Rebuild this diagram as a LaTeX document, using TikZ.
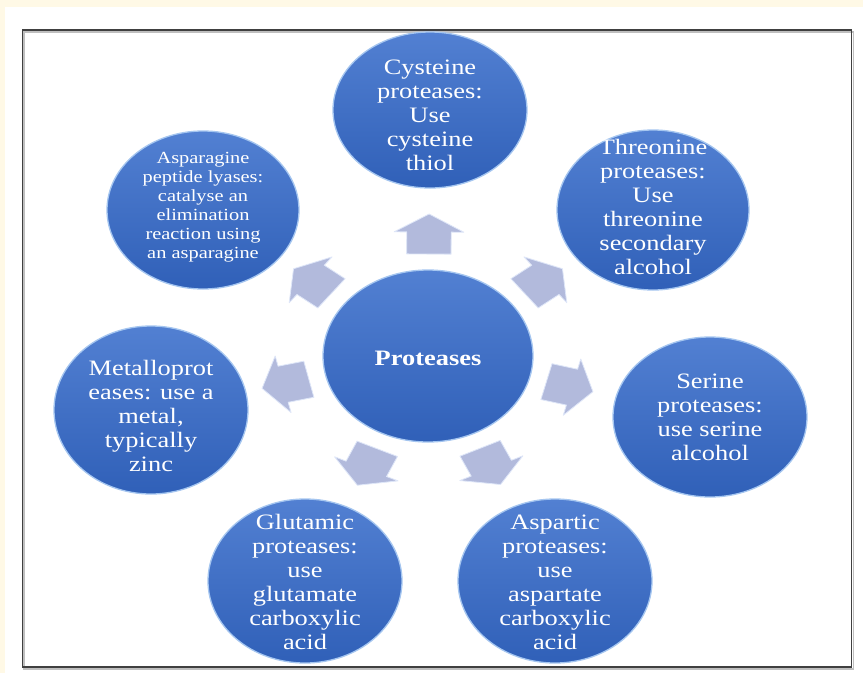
\documentclass[tikz,border=0pt]{standalone}
\usepackage{fontspec}
\setmainfont{Liberation Serif}[FakeStretch=1.2]
\usetikzlibrary{shapes.geometric,calc}
\definecolor{cream}{RGB}{255,249,230}
\definecolor{bubtop}{RGB}{82,128,210}
\definecolor{bubbot}{RGB}{48,96,184}
\definecolor{bubrim}{RGB}{165,198,240}
\definecolor{arrfill}{RGB}{178,186,220}
\definecolor{arredge}{RGB}{222,230,248}
\begin{document}
\begin{tikzpicture}[x=1pt,y=-1pt,
  bubble/.style={ellipse, inner sep=0pt, top color=bubtop, bottom color=bubbot, draw=bubrim, line width=1.3pt},
  btext/.style={align=center, text=white, font=\fontsize{22}{24}\selectfont},
  stext/.style={align=center, text=white, font=\fontsize{17}{19}\selectfont},
  blockarr/.style={fill=arrfill, draw=arredge, line width=0.8pt, line join=round}]

\fill[cream] (0,0) rectangle (863,673);
\fill[white] (5,7) rectangle (863,673);
\useasboundingbox (0,0) rectangle (863,673);
\draw[black!25, line width=1.2pt] (24,32) rectangle (853.5,669);
\draw[black!75, line width=1.2pt] (22.5,30) rectangle (851.5,667);

\node[bubble, minimum width=210pt, minimum height=172pt] (c) at (428,356) {};
\node[bubble, minimum width=194pt, minimum height=156pt] (cys) at (430,110) {};
\node[bubble, minimum width=192pt, minimum height=160pt] (thr) at (653,210) {};
\node[bubble, minimum width=194pt, minimum height=160pt] (ser) at (710,417) {};
\node[bubble, minimum width=194pt, minimum height=164pt] (asp) at (555,581) {};
\node[bubble, minimum width=194pt, minimum height=164pt] (glu) at (305,581) {};
\node[bubble, minimum width=194pt, minimum height=168pt] (met) at (151,410) {};
\node[bubble, minimum width=192pt, minimum height=158pt] (asn) at (203,210) {};

\node[btext, font=\fontsize{22}{24}\selectfont\bfseries] (tc) at ($(c)+(0,2)$) {Proteases};
\node[btext] (tcys) at ($(cys)+(0,5)$) {Cysteine\\proteases:\\Use\\cysteine\\thiol};
\node[btext] (tthr) at ($(thr)+(0,-3)$) {Threonine\\proteases:\\Use\\threonine\\secondary\\alcohol};
\node[btext] (tser) at (ser) {Serine\\proteases:\\use serine\\alcohol};
\node[btext] (tasp) at ($(asp)+(0,1)$) {Aspartic\\proteases:\\use\\aspartate\\carboxylic\\acid};
\node[btext] (tglu) at ($(glu)+(0,1)$) {Glutamic\\proteases:\\use\\glutamate\\carboxylic\\acid};
\node[btext] (tmet) at ($(met)+(0,6)$) {Metalloprot\\eases: use a\\metal,\\typically\\zinc};
\node[stext] (tasn) at ($(asn)+(0,-3)$) {Asparagine\\peptide lyases:\\catalyse an\\elimination\\reaction using\\an asparagine};

\foreach \t in {cys,thr,ser,asp,glu,met,asn}{
  \pgfpointdiff{\pgfpointanchor{c}{center}}{\pgfpointanchor{\t}{center}}
  \pgfgetlastxy{\dx}{\dy}
  \pgfmathsetmacro\ang{atan2(\dy,\dx/1.2)}
  \path[blockarr, shift={($(c)+({1.2*122*cos(\ang)*1pt},{122*sin(\ang)*1pt})$)}, xscale=1.2, rotate=\ang]
    (-20pt,-18.5pt) -- (2pt,-18.5pt) -- (2pt,-29pt) -- (20pt,0pt) -- (2pt,29pt)
    -- (2pt,18.5pt) -- (-20pt,18.5pt) -- cycle;
}
\end{tikzpicture}
\end{document}
